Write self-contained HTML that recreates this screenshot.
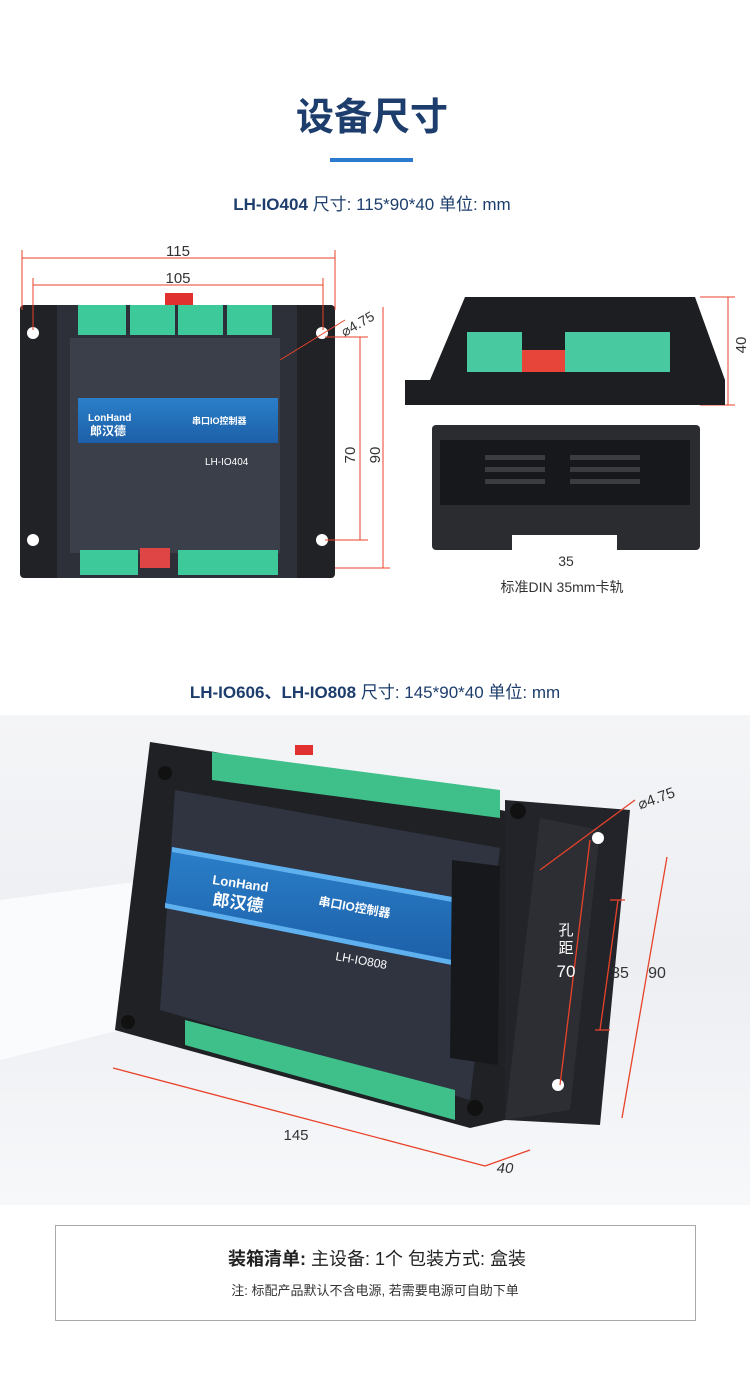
<!DOCTYPE html>
<html><head><meta charset="utf-8"><style>
body{margin:0;background:#fff;width:750px;height:1380px;overflow:hidden;font-family:"Liberation Sans","Noto Sans CJK SC",sans-serif}
</style></head><body>
<svg width="750" height="1380" viewBox="0 0 750 1380" xmlns="http://www.w3.org/2000/svg" font-family="Liberation Sans, Noto Sans CJK SC, sans-serif">
<defs>
<linearGradient id="bg" x1="0" y1="0" x2="0" y2="1"><stop offset="0" stop-color="#f4f5f7"/><stop offset="0.5" stop-color="#eceef2"/><stop offset="1" stop-color="#f7f8fa"/></linearGradient>
<linearGradient id="blue" x1="0" y1="0" x2="0" y2="1"><stop offset="0" stop-color="#2b7fc9"/><stop offset="1" stop-color="#1c5fa8"/></linearGradient>
</defs>
<rect width="750" height="1380" fill="#fff"/>
<text x="372" y="130" text-anchor="middle" font-size="38" font-weight="bold" fill="#1d3d6c">设备尺寸</text>
<rect x="330" y="158" width="83" height="4" fill="#2a7bd0"/>
<text x="372" y="210" text-anchor="middle" font-size="17" fill="#1d3d6c"><tspan font-weight="bold">LH-IO404</tspan> 尺寸: 115*90*40   单位: mm</text>

<!-- device 1 -->
<rect x="20" y="305" width="315" height="273" rx="4" fill="#202226"/>
<rect x="57" y="305" width="240" height="273" fill="#2d3038"/>
<rect x="70" y="338" width="210" height="215" fill="#3a3f4a"/>
<g fill="#3ec99a"><rect x="78" y="305" width="48" height="30"/><rect x="130" y="305" width="45" height="30"/><rect x="178" y="305" width="45" height="30"/><rect x="227" y="305" width="45" height="30"/>
<rect x="80" y="550" width="58" height="25"/><rect x="178" y="550" width="100" height="25"/></g>
<rect x="165" y="293" width="28" height="12" fill="#e03030"/>
<rect x="140" y="548" width="30" height="20" fill="#e04545"/>
<rect x="78" y="398" width="200" height="45" fill="url(#blue)"/>
<text x="88" y="421" font-size="10" fill="#fff" font-weight="bold">LonHand</text>
<text x="90" y="435" font-size="12" fill="#fff" font-weight="bold">郎汉德</text>
<text x="192" y="424" font-size="9" fill="#fff" font-weight="bold">串口IO控制器</text>
<text x="205" y="465" font-size="10" fill="#fff">LH-IO404</text>
<g fill="#fff"><circle cx="33" cy="333" r="6"/><circle cx="322" cy="333" r="6"/><circle cx="33" cy="540" r="6"/><circle cx="322" cy="540" r="6"/></g>
<g stroke="#e8422a" stroke-width="1" fill="none">
<line x1="22" y1="258" x2="335" y2="258"/><line x1="22" y1="250" x2="22" y2="310"/><line x1="335" y1="250" x2="335" y2="310"/>
<line x1="33" y1="285" x2="323" y2="285"/><line x1="33" y1="278" x2="33" y2="330"/><line x1="323" y1="278" x2="323" y2="330"/>
<line x1="360" y1="337" x2="360" y2="540"/><line x1="325" y1="337" x2="368" y2="337"/><line x1="325" y1="540" x2="368" y2="540"/>
<line x1="383" y1="307" x2="383" y2="568"/><line x1="335" y1="568" x2="390" y2="568"/>
<line x1="280" y1="360" x2="345" y2="320"/>
<line x1="728" y1="297" x2="728" y2="405"/><line x1="700" y1="297" x2="735" y2="297"/><line x1="700" y1="405" x2="735" y2="405"/>
</g>
<text x="178" y="256" text-anchor="middle" font-size="15" fill="#333">115</text>
<text x="178" y="283" text-anchor="middle" font-size="15" fill="#333">105</text>
<text x="355" y="455" text-anchor="middle" font-size="15" fill="#333" transform="rotate(-90 355 455)">70</text>
<text x="380" y="455" text-anchor="middle" font-size="15" fill="#333" transform="rotate(-90 380 455)">90</text>
<text x="360" y="328" text-anchor="middle" font-size="14" fill="#333" transform="rotate(-30 360 328)">⌀4.75</text>
<text x="746" y="345" text-anchor="middle" font-size="15" fill="#333" transform="rotate(-90 746 345)">40</text>

<!-- side view -->
<path d="M405 405 L405 380 L430 380 L465 297 L695 297 L725 380 L725 405 Z" fill="#1c1e22"/>
<rect x="467" y="332" width="55" height="40" fill="#49c9a0"/>
<rect x="565" y="332" width="105" height="40" fill="#49c9a0"/>
<rect x="522" y="350" width="43" height="22" fill="#e8453a"/>
<!-- bottom view -->
<rect x="432" y="425" width="268" height="125" rx="4" fill="#2a2c30"/>
<rect x="440" y="440" width="250" height="65" fill="#17181b"/>
<g fill="#3a3c40"><rect x="485" y="455" width="60" height="5"/><rect x="485" y="467" width="60" height="5"/><rect x="485" y="479" width="60" height="5"/><rect x="570" y="455" width="70" height="5"/><rect x="570" y="467" width="70" height="5"/><rect x="570" y="479" width="70" height="5"/></g>
<rect x="512" y="535" width="105" height="18" fill="#fff"/>
<text x="566" y="566" text-anchor="middle" font-size="14" fill="#333">35</text>
<text x="562" y="592" text-anchor="middle" font-size="14" fill="#333">标准DIN 35mm卡轨</text>

<text x="375" y="698" text-anchor="middle" font-size="17" fill="#1d3d6c"><tspan font-weight="bold">LH-IO606、LH-IO808</tspan> 尺寸: 145*90*40   单位: mm</text>

<!-- photo -->
<rect x="0" y="715" width="750" height="490" fill="url(#bg)"/>
<path d="M0 900 L150 880 L120 1030 L0 1060 Z" fill="#fafbfc"/>
<polygon points="150,742 215,752 540,818 505,1120 470,1128 115,1030" fill="#1f2125"/>
<polygon points="505,800 630,810 600,1125 505,1120" fill="#222429"/>
<polygon points="540,818 600,830 570,1110 505,1120" fill="#2c2e33"/>
<polygon points="175,790 500,848 470,1100 160,1010" fill="#2f3440"/>
<polygon points="212,752 500,790 500,818 212,780" fill="#3fbf8a"/>
<polygon points="185,1020 455,1090 455,1120 185,1045" fill="#3fbf8a"/>
<rect x="295" y="745" width="18" height="10" fill="#e03030"/>
<polygon points="172,847 458,898 452,965 165,908" fill="url(#blue)"/>
<polygon points="172,847 458,898 458,903 172,852" fill="#5fb0ee"/>
<polygon points="165,903 452,960 452,965 165,908" fill="#5fb0ee"/>
<text x="212" y="884" font-size="13" font-weight="bold" fill="#fff" transform="rotate(8 212 884)">LonHand</text>
<text x="212" y="905" font-size="17" font-weight="bold" fill="#fff" transform="rotate(8 212 905)">郎汉德</text>
<text x="318" y="905" font-size="12" font-weight="bold" fill="#fff" transform="rotate(10 318 905)">串口IO控制器</text>
<text x="335" y="960" font-size="12" fill="#fff" transform="rotate(10 335 960)">LH-IO808</text>
<polygon points="452,860 500,866 498,1065 450,1058" fill="#17181b"/>
<g fill="#fff"><circle cx="598" cy="838" r="6"/><circle cx="558" cy="1085" r="6"/></g>
<g fill="#111"><circle cx="165" cy="773" r="7"/><circle cx="518" cy="811" r="8"/><circle cx="128" cy="1022" r="7"/><circle cx="475" cy="1108" r="8"/></g>
<g stroke="#e8422a" stroke-width="1.3" fill="none">
<line x1="113" y1="1068" x2="485" y2="1166"/><line x1="485" y1="1166" x2="530" y2="1150"/>
<line x1="667" y1="857" x2="622" y2="1118"/>
<line x1="618" y1="900" x2="600" y2="1030"/><line x1="610" y1="900" x2="625" y2="900"/><line x1="595" y1="1030" x2="610" y2="1030"/>
<line x1="590" y1="840" x2="560" y2="1085"/>
<line x1="540" y1="870" x2="635" y2="800"/>
</g>
<text x="296" y="1140" text-anchor="middle" font-size="15" fill="#333">145</text>
<text x="505" y="1173" text-anchor="middle" font-size="15" font-style="italic" fill="#333">40</text>
<text x="620" y="978" text-anchor="middle" font-size="16" fill="#333">35</text>
<text x="657" y="978" text-anchor="middle" font-size="16" fill="#333">90</text>
<text x="658" y="803" text-anchor="middle" font-size="15" fill="#333" transform="rotate(-20 658 803)">⌀4.75</text>
<text x="566" y="935" font-size="15" fill="#fff" text-anchor="middle">孔</text>
<text x="566" y="953" font-size="15" fill="#fff" text-anchor="middle">距</text>
<text x="566" y="977" font-size="17" fill="#fff" text-anchor="middle">70</text>

<!-- box -->
<rect x="55.5" y="1225.5" width="640" height="95" fill="#fff" stroke="#aaa"/>
<text x="377" y="1265" text-anchor="middle" font-size="18" fill="#222"><tspan font-weight="bold">装箱清单:</tspan> 主设备: 1个    包装方式: 盒装</text>
<text x="375" y="1295" text-anchor="middle" font-size="13" fill="#333">注: 标配产品默认不含电源, 若需要电源可自助下单</text>
</svg>
</body></html>
